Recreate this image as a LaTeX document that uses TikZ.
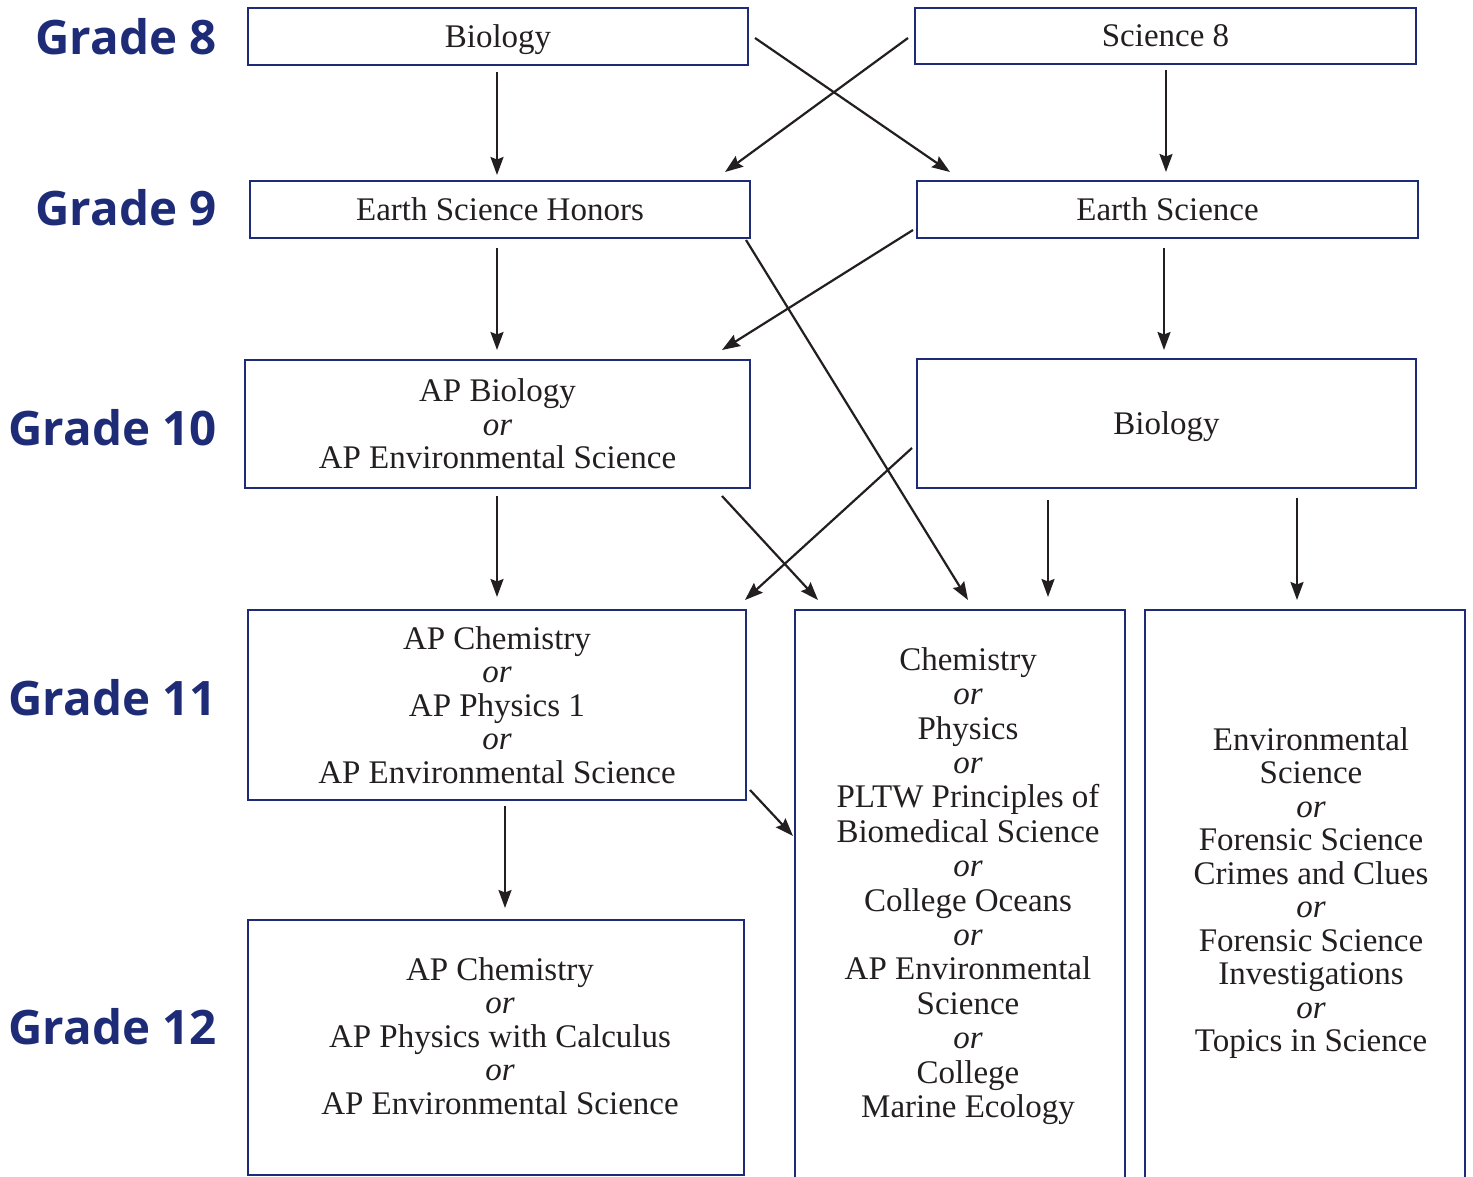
\documentclass[tikz,border=0pt]{standalone}
\usepackage{fontspec}
\setmainfont{Liberation Serif}
\newfontfamily\gradefont{Open Sans}
\usetikzlibrary{arrows.meta}
\definecolor{navy}{RGB}{30,44,120}
\definecolor{ink}{RGB}{35,31,32}
\tikzset{
  course/.style={draw=navy, line width=2.7pt, inner sep=0pt, outer sep=0pt, align=center, text=ink, font=\fontsize{33}{33.5}\selectfont},
  oneline/.style={course, text depth=0pt},
  coursetext/.style={align=center, text=ink, inner sep=0pt, font=\fontsize{33}{33.5}\selectfont},
  grade/.style={anchor=east, inner sep=0pt, text=navy, font=\gradefont\bfseries\fontsize{47.5}{50}\selectfont},
  arr/.style={draw=ink, line width=2.2pt, -{Stealth[length=18pt,width=13pt,inset=2.5pt]}}
}
\newcommand{\ortext}{\textit{or}}
\begin{document}
\begin{tikzpicture}[x=1pt,y=-1pt]
                    \useasboundingbox (0,0) rectangle (1473,1177);
                    \clip (0,0) rectangle (1473,1177);
                    \node[grade] (gr8) at (217,37){Grade 8};
                    \node[grade] (gr9) at (217,208){Grade 9};
                    \node[grade] (gr10) at (217,428){Grade 10};
                    \node[grade] (gr11) at (217,698){Grade 11};
                    \node[grade] (gr12) at (217,1027){Grade 12};
                    \node[oneline, minimum width=500pt, minimum height=57pt] (bio8) at (498,36.5){Biology};
                    \node[oneline, minimum width=501pt, minimum height=56pt] (sci8) at (1165.5,36){Science 8};
                    \node[oneline, minimum width=500pt, minimum height=57pt] (esh) at (500,209.5){Earth Science Honors};
                    \node[oneline, minimum width=501pt, minimum height=57pt] (es) at (1167.5,209.5){Earth Science};
                    \node[course, minimum width=505pt, minimum height=128pt] (apbio) at (497.5,424){AP Biology\\\ortext\\AP Environmental Science};
                    \node[oneline, minimum width=499pt, minimum height=129pt] (bio10) at (1166.5,423.5){Biology};
                    \node[course, minimum width=498pt, minimum height=190pt] (apchem) at (497,705){AP Chemistry\\\ortext\\AP Physics 1\\\ortext\\AP Environmental Science};
                    \node[course, minimum width=330pt, minimum height=590pt] (mid) at (960,905){};
                    \node[course, minimum width=320pt, minimum height=590pt] (elect) at (1305,905){};
                    \node[course, minimum width=496pt, minimum height=255pt] (apcalc) at (496,1047.5){};
                    \node[coursetext, font=\fontsize{33}{34.4}\selectfont] (midtxt) at (968,886){Chemistry\\\ortext\\Physics\\\ortext\\PLTW Principles of\\Biomedical Science\\\ortext\\College Oceans\\\ortext\\AP Environmental\\Science\\\ortext\\College\\Marine Ecology};
                    \node[coursetext] (electtxt) at (1311,893){Environmental\\Science\\\ortext\\Forensic Science\\Crimes and Clues\\\ortext\\Forensic Science\\Investigations\\\ortext\\Topics in Science};
                    \node[coursetext] (apcalctxt) at (500,1036){AP Chemistry\\\ortext\\AP Physics with Calculus\\\ortext\\AP Environmental Science};
                    \draw[arr]([shift={(-1,7)}]bio8.south)--([shift={(-3,-6)}]esh.north);
                    \draw[arr]([shift={(7,1.5)}]bio8.east)--([shift={(33,-9)}]es.north west);
                    \draw[arr]([shift={(-7,2)}]sci8.west)--([shift={(-25,-9)}]esh.north east);
                    \draw[arr]([shift={(0.5,6)}]sci8.south)--([shift={(-1.5,-9)}]es.north);
                    \draw[arr]([shift={(-3,10)}]esh.south)--([shift={(-0.5,-10)}]apbio.north);
                    \draw[arr]([shift={(-4,-8)}]es.south west)--([shift={(-28,-10)}]apbio.north east);
                    \draw[arr]([shift={(-3.5,10)}]es.south)--([shift={(-2.5,-9)}]bio10.north);
                    \draw[arr]([shift={(-4,2)}]esh.south east)--([shift={(8,-10)}]mid.north);
                    \draw[arr]([shift={(-0.5,8)}]apbio.south)--([shift={(0,-13)}]apchem.north);
                    \draw[arr]([shift={(-28,8)}]apbio.south east)--([shift={(23,-10)}]mid.north west);
                    \draw[arr]([shift={(-5,24.5)}]bio10.west)--([shift={(-1,-10)}]apchem.north east);
                    \draw[arr]([shift={(-118.5,12)}]bio10.south)--([shift={(88,-13)}]mid.north);
                    \draw[arr]([shift={(130.5,10)}]bio10.south)--([shift={(-8,-10)}]elect.north);
                    \draw[arr]([shift={(4,-10)}]apchem.south east)--([shift={(-2,226)}]mid.north west);
                    \draw[arr]([shift={(8,6)}]apchem.south)--([shift={(9,-12)}]apcalc.north);
                \end{tikzpicture}
\end{document}
